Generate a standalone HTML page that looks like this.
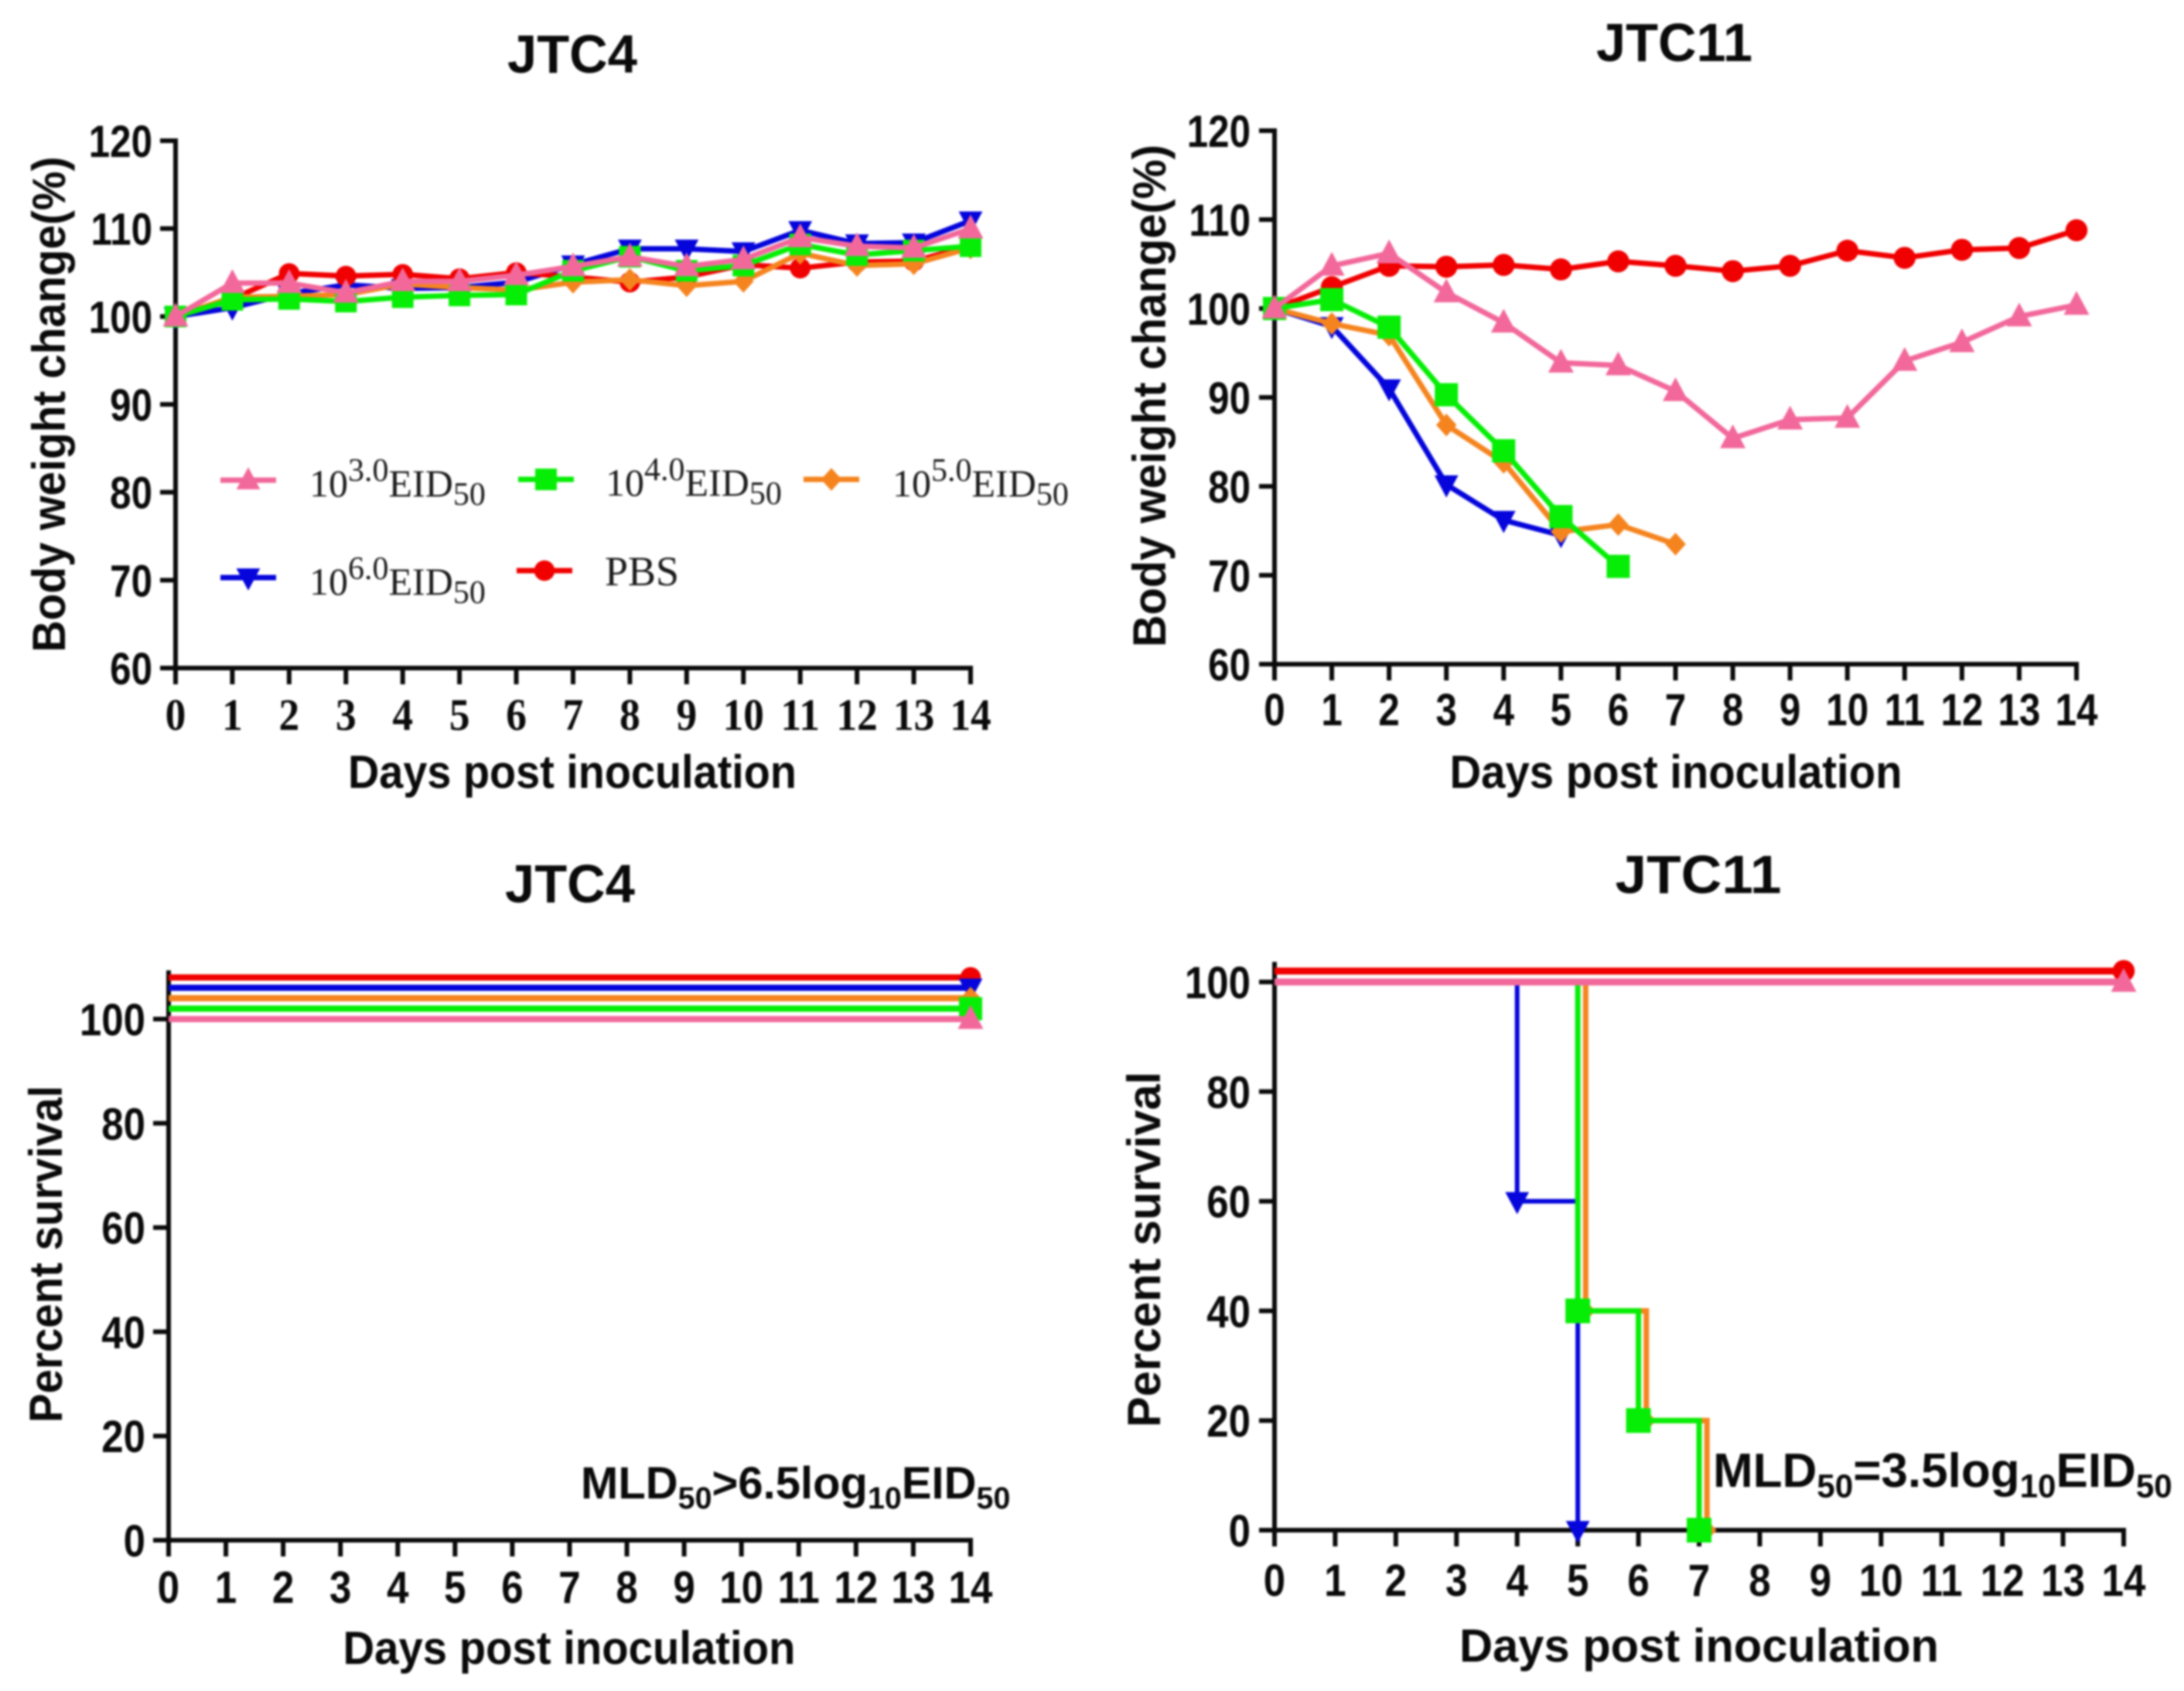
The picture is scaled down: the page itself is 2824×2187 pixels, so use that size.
<!DOCTYPE html>
<html lang="en">
<head>
<meta charset="utf-8">
<title>JTC4 and JTC11 body weight and survival</title>
<style>
html,body{margin:0;padding:0;background:#fff;}
#figure{display:block;width:2824px;height:2187px;filter:blur(1.2px);}
</style>
</head>
<body>
<svg id="figure" xmlns="http://www.w3.org/2000/svg" width="2824" height="2187" viewBox="0 0 2824 2187"></svg>
<script>
// Shared tick labels and days
const dayTicks = [0,1,2,3,4,5,6,7,8,9,10,11,12,13,14];
const weightTicks = [60,70,80,90,100,110,120];
const survivalTicks = [0,20,40,60,80,100];

// JTC4 body weight (%)
const jtc4Pink   = [100,103.8,103.8,102.7,104,104,104.7,105.7,106.8,105.7,106.5,109,108,107.8,110];
const jtc4Green  = [100,101.9,102,101.7,102.2,102.4,102.5,105.2,106.8,105.2,105.8,108.2,107,107.5,108];
const jtc4Orange = [100,102.2,102.3,102.5,103.7,103.3,103,103.9,104.2,103.5,104,107.2,105.8,106,107.8];
const jtc4Blue   = [100,101,102.6,103.6,103.2,103.3,103.9,105.9,107.7,107.7,107.4,109.8,108.3,108.4,110.9];
const jtc4Red    = [100,102,104.9,104.6,104.8,104.3,105,104.5,103.9,104.5,105.9,105.5,106.2,106.3,108];

// JTC11 body weight (%)
const jtc11Pink   = [100,104.8,106.2,101.8,98.4,93.9,93.6,90.7,85.4,87.5,87.7,94.1,96.2,99.1,100.4];
const jtc11Green  = [100,101,97.9,90.3,84,76.6,71];
const jtc11Orange = [100,98.3,97,86.9,82.7,74.9,75.7,73.5];
const jtc11Blue   = [100,98,91,80.2,76.2,74.5];
const jtc11Red    = [100,102.4,104.8,104.7,104.9,104.4,105.3,104.8,104.2,104.8,106.5,105.7,106.6,106.8,108.8];

// JTC4 survival (%), step series
const survival4Days   = [0,14];
const survival4Pink   = [100,100];
const survival4Green  = [102,102];
const survival4Orange = [104,104];
const survival4Blue   = [106,106];
const survival4Red    = [108,108];

// JTC11 survival (%), step series
const survival11RedDays    = [0,14];
const survival11Red        = [102,102];
const survival11PinkDays   = [0,14];
const survival11Pink       = [100,100];
const survival11BlueDays   = [0,4,5];
const survival11Blue       = [100,60,0];
const survival11OrangeDays = [0,5.13,6.13,7.13];
const survival11Orange     = [100,40,20,0];
const survival11GreenDays  = [0,5,6,7];
const survival11Green      = [100,40,20,0];

const COLORS = {pink:'#f2689b', green:'#06ee06', orange:'#f5841f', blue:'#0505dc', red:'#f00000'};
const NS = 'http://www.w3.org/2000/svg';
const root = document.getElementById('figure');

function make(tag, attrs, parent){
  const n = document.createElementNS(NS, tag);
  for (const k in attrs) n.setAttribute(k, attrs[k]);
  parent.appendChild(n);
  return n;
}

function addText(parent, name, str, x, y, o){
  const t = make('text', {
    'font-family': o.family || '"Liberation Sans", sans-serif',
    'font-size': o.size,
    'font-weight': o.weight || 'bold',
    'text-anchor': o.anchor || 'middle',
    fill: o.fill || '#0a0a0a',
    transform: 'translate(' + x + ' ' + y + ')' + (o.rotate ? ' rotate(' + o.rotate + ')' : '') + (o.sx ? ' scale(' + o.sx + ' 1)' : '')
  }, parent);
  if (o.len) {
    t.setAttribute('textLength', o.len);
    t.setAttribute('lengthAdjust', 'spacingAndGlyphs');
  }
  t.textContent = str;
  
  
  return t;
}

function addMarker(parent, name, shape, x, y, color, s){
  let m;
  if (shape === 'circle') {
    m = make('circle', {cx:x, cy:y, r:s*0.95, fill:color}, parent);
  } else if (shape === 'square') {
    m = make('rect', {x:x-s, y:y-s, width:2*s, height:2*s, fill:color}, parent);
  } else if (shape === 'diamond') {
    m = make('path', {d:'M'+x+' '+(y-s*1.05)+'L'+(x+s*0.95)+' '+y+'L'+x+' '+(y+s*1.05)+'L'+(x-s*0.95)+' '+y+'Z', fill:color}, parent);
  } else if (shape === 'up') {
    m = make('path', {d:'M'+x+' '+(y-s*1.2)+'L'+(x+s*1.1)+' '+(y+s*0.85)+'L'+(x-s*1.1)+' '+(y+s*0.85)+'Z', fill:color}, parent);
  } else {
    m = make('path', {d:'M'+x+' '+(y+s*1.2)+'L'+(x+s*1.1)+' '+(y-s*0.85)+'L'+(x-s*1.1)+' '+(y-s*0.85)+'Z', fill:color}, parent);
  }
  
  
  return m;
}

function makeScales(p){
  return {
    x: d => p.x0 + (d - 0) / 14 * (p.x1 - p.x0),
    y: v => p.yBottom + (v - p.vMin) / (p.vMax - p.vMin) * (p.yTop - p.yBottom)
  };
}

function drawAxes(g, p, s, yTicks){
  const axes = make('g', {stroke:'#0a0a0a', 'stroke-width':p.axisW, fill:'none'}, g);
  
  
  const yLine = make('line', {x1:p.x0, x2:p.x0, y1:p.yAxisTop, y2:p.yBottom + p.axisW/2}, axes);
  
  
  const xLine = make('line', {x1:p.x0 - p.axisW/2, x2:p.x1 + p.axisW/2, y1:p.yBottom, y2:p.yBottom}, axes);
  
  
  yTicks.forEach(v => {
    const yy = s.y(v);
    const t = make('line', {x1:p.x0 - 20, x2:p.x0, y1:yy, y2:yy}, axes);
    
    
    addText(g, 'y-tick-label-' + v, String(v), p.yLabelX, yy + 21, {size:p.tickSize, anchor:'end', sx:p.tickSx});
  });
  dayTicks.forEach(d => {
    const xx = s.x(d);
    const t = make('line', {x1:xx, x2:xx, y1:p.yBottom, y2:p.yBottom + 21}, axes);
    
    
    addText(g, 'x-tick-label-' + d, String(d), xx, p.xLabelY, {size:p.xTickSize || p.tickSize, sx:p.xTickSx || p.tickSx, family:p.xFamily});
  });
}

function drawLineSeries(g, s, name, values, color, shape, lw, ms){
  const sg = make('g', {}, g);
  
  
  const pts = values.map((v, i) => s.x(i) + ',' + s.y(v)).join(' ');
  const pl = make('polyline', {points:pts, fill:'none', stroke:color, 'stroke-width':lw, 'stroke-linejoin':'round'}, sg);
  
  
  values.forEach((v, i) => addMarker(sg, 'point-' + name + '-day-' + i, shape, s.x(i), s.y(v), color, ms));
}

function drawStepSeries(g, s, name, days, values, color, shape, lw, ms){
  const sg = make('g', {}, g);
  
  
  let d = 'M' + s.x(days[0]) + ' ' + s.y(values[0]);
  for (let i = 1; i < days.length; i++) {
    d += 'H' + s.x(days[i]) + 'V' + s.y(values[i]);
  }
  const pl = make('path', {d:d, fill:'none', stroke:color, 'stroke-width':lw}, sg);
  
  
  for (let i = 1; i < days.length; i++) {
    addMarker(sg, 'point-' + name + '-day-' + days[i], shape, s.x(days[i]), s.y(values[i]), color, ms);
  }
}

function panelGroup(name){
  const g = make('g', {}, root);
  
  
  return g;
}

function drawMld(g, name, x, y, size, rel){
  const t = make('text', {x:x, y:y, 'font-family':'"Liberation Sans", sans-serif', 'font-size':size, 'font-weight':'bold', fill:'#0a0a0a'}, g);
  
  
  const subSize = size * 0.68;
  const parts = [['MLD',0],['50',1],[rel,0],['log',0],['10',1],['EID',0],['50',1]];
  let prev = 0;
  parts.forEach(pt => {
    const ts = make('tspan', {'font-size': pt[1] ? subSize : size}, t);
    const want = pt[1] ? size * 0.22 : 0;
    ts.setAttribute('dy', want - prev);
    prev = want;
    ts.textContent = pt[0];
  });
}

function legendEntry(g, name, lx, ly, tx, ty, color, shape, sup){
  const e = make('g', {}, g);
  
  
  const ln = make('line', {x1:lx, x2:lx + 72, y1:ly, y2:ly, stroke:color, 'stroke-width':7}, e);
  
  
  addMarker(e, 'legend-marker-' + name, shape, lx + 36, ly, color, 14);
  const t = make('text', {x:tx, y:ty, 'font-family':'"Liberation Serif", serif', 'font-size':50, fill:'#1a1a1a'}, e);
  
  
  if (!sup) {
    t.setAttribute('font-size', '54');
    t.textContent = 'PBS';
    return;
  }
  const a = make('tspan', {}, t); a.textContent = '10';
  const b = make('tspan', {'font-size':42, dy:-20}, t); b.textContent = sup;
  const c = make('tspan', {dy:20}, t); c.textContent = 'EID';
  const d = make('tspan', {'font-size':42, dy:11}, t); d.textContent = '50';
}

/* ---------- Panel A: JTC4 body weight ---------- */
(function(){
  const p = {x0:227, x1:1255, yBottom:864, yTop:182, yAxisTop:179, vMin:60, vMax:120, axisW:6, yLabelX:197, xLabelY:944, tickSize:58, tickSx:0.85, xTickSize:58, xTickSx:0.92, xFamily:'"Liberation Serif", serif'};
  const s = makeScales(p);
  const g = panelGroup('panel-jtc4-body-weight');
  addText(g, 'chart-title', 'JTC4', 740, 94, {size:70, len:168});
  addText(g, 'y-axis-title', 'Body weight change(%)', 84, 523, {size:60, rotate:-90, len:641});
  addText(g, 'x-axis-title', 'Days post inoculation', 740, 1019, {size:60, len:580});
  drawAxes(g, p, s, weightTicks);
  drawLineSeries(g, s, 'jtc4-1e6', jtc4Blue, COLORS.blue, 'down', 7, 14);
  drawLineSeries(g, s, 'jtc4-pbs', jtc4Red, COLORS.red, 'circle', 7, 14);
  drawLineSeries(g, s, 'jtc4-1e5', jtc4Orange, COLORS.orange, 'diamond', 7, 14);
  drawLineSeries(g, s, 'jtc4-1e4', jtc4Green, COLORS.green, 'square', 7, 14);
  drawLineSeries(g, s, 'jtc4-1e3', jtc4Pink, COLORS.pink, 'up', 7, 15);
  const lg = make('g', {}, g);
  
  
  legendEntry(lg, '1e3', 285, 621, 400, 642, COLORS.pink, 'up', '3.0');
  legendEntry(lg, '1e4', 670, 620, 783, 641, COLORS.green, 'square', '4.0');
  legendEntry(lg, '1e5', 1039, 620, 1154, 642, COLORS.orange, 'diamond', '5.0');
  legendEntry(lg, '1e6', 285, 747, 400, 769, COLORS.blue, 'down', '6.0');
  legendEntry(lg, 'pbs', 668, 738, 782, 757, COLORS.red, 'circle', null);
})();

/* ---------- Panel B: JTC11 body weight ---------- */
(function(){
  const p = {x0:1648, x1:2685, yBottom:859, yTop:169, yAxisTop:166, vMin:60, vMax:120, axisW:6, yLabelX:1617, xLabelY:938, tickSize:58, tickSx:0.85};
  const s = makeScales(p);
  const g = panelGroup('panel-jtc11-body-weight');
  addText(g, 'chart-title', 'JTC11', 2165, 79, {size:70, len:202});
  addText(g, 'y-axis-title', 'Body weight change(%)', 1507, 512, {size:60, rotate:-90, len:650});
  addText(g, 'x-axis-title', 'Days post inoculation', 2167, 1019, {size:60, len:585});
  drawAxes(g, p, s, weightTicks);
  drawLineSeries(g, s, 'jtc11-1e6', jtc11Blue, COLORS.blue, 'down', 7, 14);
  drawLineSeries(g, s, 'jtc11-pbs', jtc11Red, COLORS.red, 'circle', 7, 15);
  drawLineSeries(g, s, 'jtc11-1e5', jtc11Orange, COLORS.orange, 'diamond', 7, 14);
  drawLineSeries(g, s, 'jtc11-1e4', jtc11Green, COLORS.green, 'square', 7, 15);
  drawLineSeries(g, s, 'jtc11-1e3', jtc11Pink, COLORS.pink, 'up', 7, 15);
})();

/* ---------- Panel C: JTC4 survival ---------- */
(function(){
  const p = {x0:218, x1:1255, yBottom:1992, yTop:1318, yAxisTop:1255, vMin:0, vMax:100, axisW:6, yLabelX:188, xLabelY:2073, tickSize:58, tickSx:0.88};
  const s = makeScales(p);
  const g = panelGroup('panel-jtc4-survival');
  addText(g, 'chart-title', 'JTC4', 737, 1167, {size:70, len:168});
  addText(g, 'y-axis-title', 'Percent survival', 80, 1622, {size:60, rotate:-90, len:436});
  addText(g, 'x-axis-title', 'Days post inoculation', 736, 2152, {size:60, len:585});
  drawAxes(g, p, s, survivalTicks);
  drawStepSeries(g, s, 'survival4-pbs', survival4Days, survival4Red, COLORS.red, 'circle', 8, 14);
  drawStepSeries(g, s, 'survival4-1e6', survival4Days, survival4Blue, COLORS.blue, 'down', 8, 14);
  drawStepSeries(g, s, 'survival4-1e5', survival4Days, survival4Orange, COLORS.orange, 'diamond', 8, 14);
  drawStepSeries(g, s, 'survival4-1e4', survival4Days, survival4Green, COLORS.green, 'square', 8, 15);
  drawStepSeries(g, s, 'survival4-1e3', survival4Days, survival4Pink, COLORS.pink, 'up', 8, 15);
  drawMld(g, 'mld50-annotation', 751, 1938, 58, '>6.5');
})();

/* ---------- Panel D: JTC11 survival ---------- */
(function(){
  const p = {x0:1648, x1:2746, yBottom:1979, yTop:1270, yAxisTop:1244, vMin:0, vMax:100, axisW:6, yLabelX:1617, xLabelY:2064, tickSize:58, tickSx:0.88};
  const s = makeScales(p);
  const g = panelGroup('panel-jtc11-survival');
  addText(g, 'chart-title', 'JTC11', 2196, 1155, {size:70, len:215});
  addText(g, 'y-axis-title', 'Percent survival', 1500, 1616, {size:60, rotate:-90, len:460});
  addText(g, 'x-axis-title', 'Days post inoculation', 2197, 2149, {size:60, len:620});
  drawAxes(g, p, s, survivalTicks);
  drawStepSeries(g, s, 'survival11-1e6', survival11BlueDays, survival11Blue, COLORS.blue, 'down', 6, 14);
  drawStepSeries(g, s, 'survival11-1e5', survival11OrangeDays, survival11Orange, COLORS.orange, 'diamond', 7, 13);
  drawStepSeries(g, s, 'survival11-1e4', survival11GreenDays, survival11Green, COLORS.green, 'square', 7, 16);
  drawStepSeries(g, s, 'survival11-pbs', survival11RedDays, survival11Red, COLORS.red, 'circle', 9, 15);
  drawStepSeries(g, s, 'survival11-1e3', survival11PinkDays, survival11Pink, COLORS.pink, 'up', 9, 15);
  drawMld(g, 'mld50-annotation', 2215, 1923, 62, '=3.5');
})();
</script>
</body>
</html>
